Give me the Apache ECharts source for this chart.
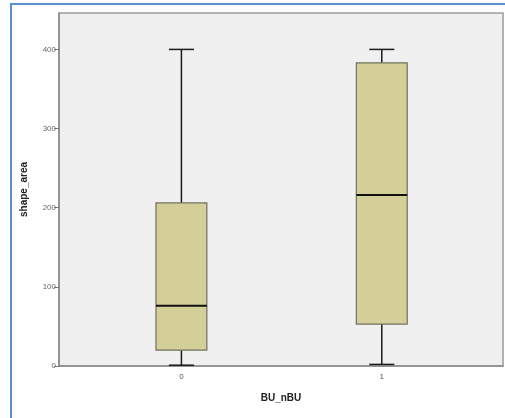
<!DOCTYPE html>
<html>
<head>
<meta charset="utf-8">
<script src="https://cdn.jsdelivr.net/npm/echarts@6/dist/echarts.min.js"></script>
<style>
  html, body { margin: 0; padding: 0; background: #ffffff; }
  #chart { width: 505px; height: 418px; }
</style>
</head>
<body>
<div id="chart"></div>
<script>
// Group labels along the x axis
const categories = ['0', '1'];
// Five-number summaries per group: [min, Q1, median, Q3, max]
const group0 = [1, 20, 76, 206, 400];
const group1 = [2, 53, 216, 383, 400];
const yTicks = [0, 100, 200, 300, 400];

const boxes = [group0, group1];
const seriesData = boxes.map((b, i) => [i].concat(b));

const chart = echarts.init(document.getElementById('chart'), null, { renderer: 'canvas' });

function renderBox(params, api) {
  const x = api.value(0);
  const lo = api.coord([x, api.value(1)]);
  const q1 = api.coord([x, api.value(2)]);
  const med = api.coord([x, api.value(3)]);
  const q3 = api.coord([x, api.value(4)]);
  const hi = api.coord([x, api.value(5)]);
  const unit = api.size([1, 0])[0];
  const boxW = unit * 0.254;
  const capW = unit * 0.125;
  const cx = lo[0];
  const wStyle = { stroke: '#1a1a1a', lineWidth: 1.5 };
  return {
    type: 'group',
    children: [
      { type: 'line', shape: { x1: cx, y1: lo[1], x2: cx, y2: q1[1] }, style: wStyle },
      { type: 'line', shape: { x1: cx, y1: q3[1], x2: cx, y2: hi[1] }, style: wStyle },
      { type: 'line', shape: { x1: cx - capW / 2, y1: lo[1], x2: cx + capW / 2, y2: lo[1] }, style: wStyle },
      { type: 'line', shape: { x1: cx - capW / 2, y1: hi[1], x2: cx + capW / 2, y2: hi[1] }, style: wStyle },
      { type: 'rect', shape: { x: cx - boxW / 2, y: q3[1], width: boxW, height: q1[1] - q3[1] },
        style: { fill: '#d4cf98', stroke: '#707060', lineWidth: 1.2 } },
      { type: 'line', shape: { x1: cx - boxW / 2, y1: med[1], x2: cx + boxW / 2, y2: med[1] },
        style: { stroke: '#111111', lineWidth: 2 } }
    ]
  };
}

chart.setOption({
  animation: false,
  backgroundColor: '#ffffff',
  graphic: [
    { type: 'rect', shape: { x: 11, y: 4, width: 600, height: 600 },
      style: { fill: 'none', stroke: '#5a8fd0', lineWidth: 2 }, z: 100 }
  ],
  grid: {
    left: 59, right: 2, top: 13, bottom: 52,
    show: true, backgroundColor: '#f0f0f0', borderColor: '#9a9a9a', borderWidth: 1.5
  },
  xAxis: {
    type: 'value',
    min: -0.611, max: 1.605,
    name: 'BU_nBU',
    nameLocation: 'middle',
    nameGap: 27,
    nameTextStyle: { fontFamily: 'Liberation Sans', fontWeight: 'bold', fontSize: 10, color: '#222' },
    axisLine: { show: true, onZero: false, lineStyle: { color: '#8a8a8a', width: 1.5 } },
    axisTick: { show: false },
    splitLine: { show: false },
    axisLabel: {
      customValues: [0, 1],
      formatter: v => categories[Math.round(v)],
      fontFamily: 'Liberation Sans', fontSize: 8, color: '#555', margin: 7
    }
  },
  yAxis: {
    type: 'value',
    min: 0, max: 446,
    name: 'shape_area',
    nameLocation: 'middle',
    nameRotate: 90,
    nameGap: 30,
    nameTextStyle: { fontFamily: 'Liberation Sans', fontWeight: 'bold', fontSize: 10, color: '#222' },
    axisLine: { show: true, onZero: false, lineStyle: { color: '#8a8a8a', width: 1.5 } },
    axisTick: { show: true, customValues: yTicks, length: 5, lineStyle: { color: '#777', width: 1 } },
    splitLine: { show: false },
    axisLabel: {
      customValues: yTicks,
      fontFamily: 'Liberation Sans', fontSize: 8, color: '#666', margin: 3
    }
  },
  series: [{
    type: 'custom',
    renderItem: renderBox,
    encode: { x: 0, y: [1, 2, 3, 4, 5] },
    data: seriesData,
    clip: false
  }]
});
</script>
</body>
</html>
